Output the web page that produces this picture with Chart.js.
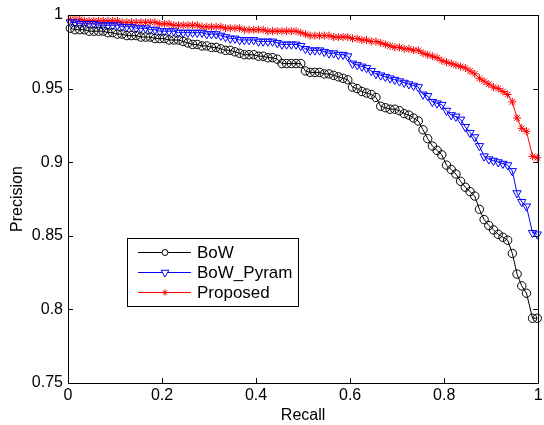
<!DOCTYPE html>
<html>
<head>
<meta charset="utf-8">
<script src="https://cdn.jsdelivr.net/npm/chart.js@4/dist/chart.umd.min.js"></script>
<style>
  html, body { margin: 0; padding: 0; background: #fff; }
  #wrap { width: 544px; height: 425px; }
</style>
</head>
<body>
<div id="wrap"><canvas id="chart" width="544" height="425"></canvas></div>
<script>
// recall sample points shared by the three curves
const recall = [
  0.005, 0.015, 0.025, 0.035, 0.045, 0.055, 0.065, 0.075, 0.085, 0.095,
  0.105, 0.115, 0.125, 0.135, 0.145, 0.155, 0.165, 0.175, 0.185, 0.195,
  0.205, 0.215, 0.225, 0.235, 0.245, 0.255, 0.265, 0.275, 0.285, 0.295,
  0.305, 0.315, 0.325, 0.335, 0.345, 0.355, 0.365, 0.375, 0.385, 0.395,
  0.405, 0.415, 0.425, 0.435, 0.445, 0.455, 0.465, 0.475, 0.485, 0.495,
  0.505, 0.515, 0.525, 0.535, 0.545, 0.555, 0.565, 0.575, 0.585, 0.595,
  0.605, 0.615, 0.625, 0.635, 0.645, 0.655, 0.665, 0.675, 0.685, 0.695,
  0.705, 0.715, 0.725, 0.735, 0.745, 0.755, 0.765, 0.775, 0.785, 0.795,
  0.805, 0.815, 0.825, 0.835, 0.845, 0.855, 0.865, 0.875, 0.885, 0.895,
  0.905, 0.915, 0.925, 0.935, 0.945, 0.955, 0.965, 0.975, 0.988, 0.998
];

const bowPrecision = [
  0.991, 0.990, 0.990, 0.990, 0.989, 0.989, 0.989, 0.989, 0.988, 0.988,
  0.987, 0.987, 0.986, 0.986, 0.986, 0.985, 0.985, 0.985, 0.984, 0.984,
  0.984, 0.983, 0.983, 0.983, 0.982, 0.981, 0.980, 0.980, 0.979, 0.979,
  0.978, 0.978, 0.977, 0.976, 0.976, 0.975, 0.974, 0.973, 0.973, 0.973,
  0.972, 0.972, 0.971, 0.971, 0.970, 0.967, 0.967, 0.967, 0.967, 0.967,
  0.962, 0.961, 0.961, 0.961, 0.960, 0.960, 0.959, 0.958, 0.957, 0.956,
  0.951, 0.950, 0.948, 0.947, 0.946, 0.944, 0.938, 0.937, 0.936, 0.936,
  0.935, 0.933, 0.932, 0.930, 0.928, 0.922, 0.916, 0.911, 0.908, 0.905,
  0.898, 0.895, 0.892, 0.887, 0.883, 0.880, 0.877, 0.868, 0.861, 0.857,
  0.854, 0.851, 0.849, 0.847, 0.838, 0.824, 0.816, 0.811, 0.794, 0.794
];

const pyramPrecision = [
  0.995, 0.995, 0.994, 0.994, 0.994, 0.994, 0.993, 0.993, 0.993, 0.993,
  0.993, 0.992, 0.992, 0.992, 0.991, 0.991, 0.991, 0.990, 0.990, 0.989,
  0.989, 0.989, 0.989, 0.988, 0.988, 0.988, 0.988, 0.988, 0.988, 0.987,
  0.987, 0.987, 0.986, 0.985, 0.984, 0.984, 0.983, 0.983, 0.983, 0.983,
  0.982, 0.982, 0.982, 0.982, 0.981, 0.980, 0.980, 0.980, 0.980, 0.979,
  0.977, 0.976, 0.976, 0.976, 0.975, 0.974, 0.974, 0.973, 0.973, 0.972,
  0.967, 0.966, 0.965, 0.964, 0.962, 0.960, 0.959, 0.958, 0.957, 0.956,
  0.955, 0.954, 0.953, 0.952, 0.951, 0.946, 0.945, 0.941, 0.940, 0.939,
  0.935, 0.932, 0.931, 0.929, 0.924, 0.920, 0.917, 0.911, 0.904, 0.902,
  0.901, 0.900, 0.899, 0.898, 0.894, 0.879, 0.873, 0.870, 0.852, 0.851
];

const proposedPrecision = [
  0.997, 0.997, 0.997, 0.996, 0.996, 0.996, 0.996, 0.996, 0.996, 0.996,
  0.996, 0.995, 0.995, 0.995, 0.995, 0.995, 0.995, 0.995, 0.995, 0.994,
  0.994, 0.994, 0.993, 0.993, 0.993, 0.993, 0.993, 0.993, 0.992, 0.992,
  0.992, 0.992, 0.992, 0.991, 0.991, 0.991, 0.991, 0.990, 0.990, 0.990,
  0.990, 0.990, 0.989, 0.989, 0.989, 0.989, 0.989, 0.989, 0.989, 0.988,
  0.987, 0.986, 0.986, 0.986, 0.986, 0.986, 0.985, 0.985, 0.985, 0.985,
  0.984, 0.984, 0.983, 0.983, 0.982, 0.982, 0.981, 0.980, 0.979, 0.978,
  0.978, 0.977, 0.977, 0.976, 0.976, 0.974, 0.973, 0.972, 0.971, 0.969,
  0.968, 0.967, 0.966, 0.965, 0.964, 0.962, 0.960, 0.957, 0.955, 0.953,
  0.951, 0.950, 0.948, 0.946, 0.941, 0.930, 0.923, 0.921, 0.904, 0.903
];

const seriesNames = ["BoW", "BoW_Pyram", "Proposed"];
const xTicks = [0, 0.2, 0.4, 0.6, 0.8, 1];
const yTicks = [0.75, 0.8, 0.85, 0.9, 0.95, 1];

const FONT = "'Liberation Sans', Arial, Helvetica, sans-serif";

const toPoints = (ys) => recall.map((x, i) => ({ x, y: ys[i] }));

// MATLAB-like frame with inward ticks on all four sides
const frameTicks = {
  id: "frameTicks",
  afterDraw(chart) {
    const { ctx, chartArea: a, scales } = chart;
    ctx.save();
    ctx.strokeStyle = "#000";
    ctx.lineWidth = 1;
    ctx.beginPath();
    xTicks.slice(1, -1).forEach((v) => {
      const px = Math.round(scales.x.getPixelForValue(v)) + 0.5;
      ctx.moveTo(px, a.bottom); ctx.lineTo(px, a.bottom - 5);
      ctx.moveTo(px, a.top); ctx.lineTo(px, a.top + 5);
    });
    yTicks.slice(1, -1).forEach((v) => {
      const py = Math.round(scales.y.getPixelForValue(v)) + 0.5;
      ctx.moveTo(a.left, py); ctx.lineTo(a.left + 5, py);
      ctx.moveTo(a.right, py); ctx.lineTo(a.right - 5, py);
    });
    ctx.stroke();
    ctx.strokeRect(Math.round(a.left) + 0.5, Math.round(a.top) + 0.5,
      Math.round(a.right - a.left), Math.round(a.bottom - a.top));
    ctx.restore();
  },
};

// legend box with line + marker samples
const boxLegend = {
  id: "boxLegend",
  afterDraw(chart) {
    const { ctx } = chart;
    const x0 = 127, y0 = 238, w = 171, h = 68;
    ctx.save();
    ctx.fillStyle = "#fff";
    ctx.fillRect(x0, y0, w, h);
    ctx.strokeStyle = "#000";
    ctx.lineWidth = 1;
    ctx.strokeRect(x0 + 0.5, y0 + 0.5, w, h);
    ctx.font = "17px " + FONT;
    ctx.textBaseline = "middle";
    chart.data.datasets.forEach((ds, i) => {
      const y = y0 + 14 + i * 20;
      ctx.strokeStyle = ds.borderColor;
      ctx.lineWidth = 1;
      ctx.beginPath();
      ctx.moveTo(138, y + 0.5);
      ctx.lineTo(191, y + 0.5);
      ctx.stroke();
      ctx.fillStyle = "#fff";
      Chart.helpers.drawPoint(ctx, {
        pointStyle: ds.pointStyle,
        rotation: ds.pointRotation || 0,
        radius: ds.pointStyle === "triangle" ? 4.5 : 3,
        borderWidth: 1,
      }, 165, y + 0.5);
      ctx.fillStyle = "#000";
      ctx.fillText(ds.label, 197, y + 1);
    });
    ctx.restore();
  },
};

const lineSet = (label, ys, color, style, rot, r) => ({
  label,
  data: toPoints(ys),
  borderColor: color,
  borderWidth: 1,
  pointStyle: style,
  pointRotation: rot,
  pointRadius: r,
  pointBorderColor: color,
  pointBackgroundColor: "rgba(0,0,0,0)",
  pointBorderWidth: 1,
  tension: 0,
  clip: false,
});

new Chart(document.getElementById("chart"), {
  type: "line",
  data: {
    datasets: [
      lineSet(seriesNames[0], bowPrecision, "#000000", "circle", 0, 4.2),
      lineSet(seriesNames[1], pyramPrecision, "#0000ff", "triangle", 180, 4.8),
      lineSet(seriesNames[2], proposedPrecision, "#ff0000", "star", 0, 4),
    ],
  },
  options: {
    responsive: false,
    animation: false,
    layout: { padding: { top: 15, right: 3, left: 0, bottom: 0 } },
    plugins: { legend: { display: false }, tooltip: { enabled: false } },
    scales: {
      x: {
        type: "linear",
        min: 0,
        max: 1,
        afterBuildTicks: (s) => { s.ticks = xTicks.map((v) => ({ value: v })); },
        afterFit: (s) => { s.height = 42; s.paddingLeft = 0; s.paddingRight = 0; },
        grid: { display: false, drawTicks: false },
        border: { display: false },
        ticks: {
          padding: 3,
          color: "#000",
          font: { family: FONT, size: 16 },
          callback: (v) => String(Number(v.toFixed(2))),
        },
        title: {
          display: true,
          text: "Recall",
          color: "#000",
          font: { family: FONT, size: 16 },
          padding: { top: 0, bottom: 0 },
        },
      },
      y: {
        type: "linear",
        min: 0.75,
        max: 1,
        afterBuildTicks: (s) => { s.ticks = yTicks.map((v) => ({ value: v })); },
        afterFit: (s) => { s.width = 68; s.paddingTop = 0; s.paddingBottom = 0; },
        grid: { display: false, drawTicks: false },
        border: { display: false },
        ticks: {
          padding: 5,
          color: "#000",
          font: { family: FONT, size: 16 },
          callback: (v) => String(Number(v.toFixed(2))),
        },
        title: {
          display: true,
          text: "Precision",
          color: "#000",
          font: { family: FONT, size: 16 },
          padding: { top: 8, bottom: 0 },
        },
      },
    },
  },
  plugins: [frameTicks, boxLegend],
});
</script>
</body>
</html>
